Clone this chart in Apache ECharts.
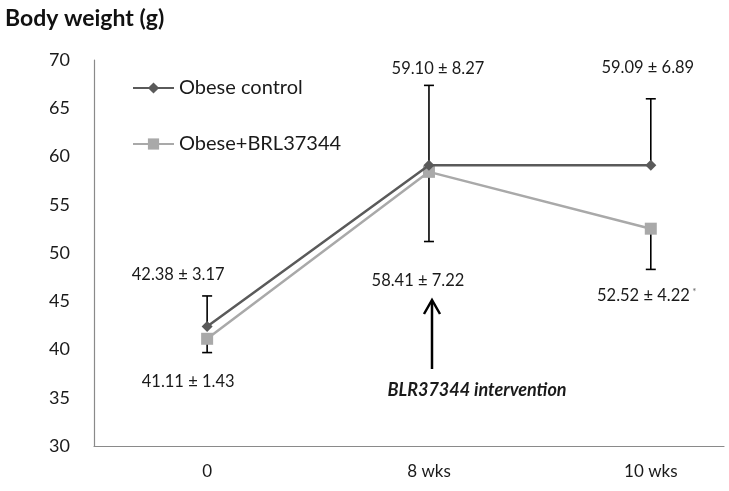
<!DOCTYPE html>
<html>
<head>
<meta charset="utf-8">
<script src="https://cdn.jsdelivr.net/npm/echarts@6/dist/echarts.min.js"></script>
<style>html,body{margin:0;padding:0;background:#fff}#c{width:729px;height:491px}</style>
</head>
<body>
<div id="c"></div>
<script>
// ---- data ----
const categories = ['0', '8 wks', '10 wks'];
const controlMean = [42.38, 59.10, 59.09];
const controlSD = [3.17, 8.27, 6.89];
const brlMean = [41.11, 58.41, 52.52];
const brlSD = [1.43, 7.22, 4.22];
const brlSignif = ['', '', '*'];
const yTicks = [30, 35, 40, 45, 50, 55, 60, 65, 70];
const seriesNames = ['Obese control', 'Obese+BRL37344'];
const annotationText = 'BLR37344 intervention';

// ---- layout (pixel offsets for value labels, relative to the point) ----
const controlLabelOffset = [[-29, -52], [9, -97], [-3, -98]];
const brlLabelOffset = [[-19, 43], [-11, 109], [-4, 67]];

const FONT = 'Lato';
const chart = echarts.init(document.getElementById('c'));

function pts(arr) { return arr.map((v, i) => [i, v]); }

function errorBarSeries(mean, sd, dir) {
  return {
    type: 'custom',
    silent: true,
    z: 1,
    data: mean.map((m, i) => [i, m, m + dir * sd[i]]),
    renderItem: function (params, api) {
      const p0 = api.coord([api.value(0), api.value(1)]);
      const p1 = api.coord([api.value(0), api.value(2)]);
      const cap = 5;
      const st = { stroke: '#000', lineWidth: 1.6 };
      return {
        type: 'group',
        children: [
          { type: 'line', shape: { x1: p0[0], y1: p0[1], x2: p1[0], y2: p1[1] }, style: st },
          { type: 'line', shape: { x1: p1[0] - cap, y1: p1[1], x2: p1[0] + cap, y2: p1[1] }, style: st }
        ]
      };
    }
  };
}

function labelSeries(mean, sd, offsets, extra) {
  return {
    type: 'custom',
    silent: true,
    z: 5,
    data: mean.map((m, i) => [i, m, sd[i]]),
    renderItem: function (params, api) {
      const i = params.dataIndex;
      const p = api.coord([api.value(0), api.value(1)]);
      const off = offsets[i];
      const base = mean[i].toFixed(2) + ' \u00b1 ' + sd[i].toFixed(2);
      const star = extra && extra[i] ? extra[i] : '';
      return {
        type: 'text',
        x: p[0] + off[0],
        y: p[1] + off[1],
        style: {
          text: star ? '{a|' + base + '}{s| ' + star + '}' : '{a|' + base + '}',
          rich: {
            a: { fontFamily: FONT, fontSize: 16.5, fill: '#1a1a1a' },
            s: { fontFamily: FONT, fontSize: 10, fill: '#666', verticalAlign: 'top', padding: [0, 0, 6, 0] }
          },
          align: 'center',
          verticalAlign: 'middle'
        }
      };
    }
  };
}

const option = {
  backgroundColor: '#fff',
  animation: false,
  title: {
    text: 'Body weight (g)',
    left: 0, top: 2,
    textStyle: { fontFamily: FONT, fontSize: 23, fontWeight: 'bold', color: '#111' }
  },
  legend: {
    orient: 'vertical',
    left: 127, top: 73,
    itemWidth: 41, itemHeight: 14, itemGap: 36,
    data: seriesNames,
    textStyle: { fontFamily: FONT, fontSize: 20, color: '#1a1a1a' }
  },
  grid: { left: 94, right: 5, top: 60, bottom: 45, containLabel: false },
  xAxis: {
    type: 'value',
    min: -0.51, max: 2.33,
    splitLine: { show: false },
    axisTick: { show: false },
    axisLine: { show: true, onZero: false, lineStyle: { color: '#8a8a8a', width: 1.2 } },
    axisLabel: {
      customValues: [0, 1, 2],
      formatter: v => categories[Math.round(v)],
      margin: 17,
      fontFamily: FONT, fontSize: 17, color: '#1a1a1a'
    }
  },
  yAxis: {
    type: 'value',
    min: yTicks[0], max: yTicks[yTicks.length - 1], interval: 5,
    splitLine: { show: false },
    axisTick: { show: false },
    axisLine: { show: true, onZero: false, lineStyle: { color: '#8a8a8a', width: 1.2 } },
    axisLabel: { margin: 24, fontFamily: FONT, fontSize: 18, color: '#1a1a1a' }
  },
  series: [
    errorBarSeries(controlMean, controlSD, 1),
    errorBarSeries(brlMean, brlSD, -1),
    {
      name: seriesNames[1], type: 'line', z: 3,
      data: pts(brlMean),
      symbol: 'rect', symbolSize: 12,
      lineStyle: { color: '#a9a9a9', width: 2.5 },
      itemStyle: { color: '#a9a9a9' }
    },
    {
      name: seriesNames[0], type: 'line', z: 4,
      data: pts(controlMean),
      symbol: 'diamond', symbolSize: 11,
      lineStyle: { color: '#5a5a5a', width: 2.5 },
      itemStyle: { color: '#5a5a5a' }
    },
    labelSeries(controlMean, controlSD, controlLabelOffset, null),
    labelSeries(brlMean, brlSD, brlLabelOffset, brlSignif)
  ],
  graphic: [
    { type: 'line', shape: { x1: 432, y1: 369, x2: 432, y2: 301 }, style: { stroke: '#000', lineWidth: 2.5 } },
    { type: 'polyline', shape: { points: [[424, 314], [432, 300], [440, 314]] }, style: { stroke: '#000', lineWidth: 2.5, fill: null } },
    {
      type: 'text', x: 477, y: 390,
      style: { text: annotationText, fontFamily: FONT, fontSize: 18, fontWeight: 'bold', fontStyle: 'italic', fill: '#1a1a1a', align: 'center', verticalAlign: 'middle' }
    }
  ]
};
chart.setOption(option);
</script>
</body>
</html>
